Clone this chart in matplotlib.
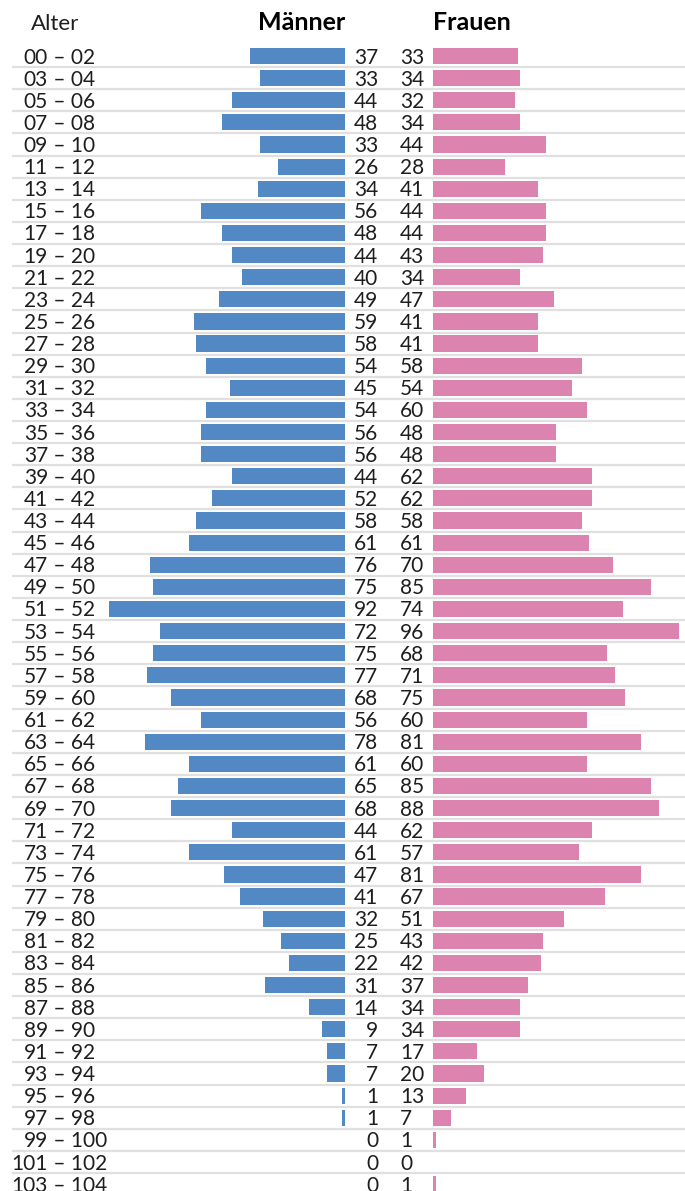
import matplotlib.pyplot as plt
import numpy as np

# Altersgruppen und Anzahl pro Geschlecht
alter = ["00 – 02", "03 – 04", "05 – 06", "07 – 08", "09 – 10", "11 – 12", "13 – 14",
         "15 – 16", "17 – 18", "19 – 20", "21 – 22", "23 – 24", "25 – 26", "27 – 28",
         "29 – 30", "31 – 32", "33 – 34", "35 – 36", "37 – 38", "39 – 40", "41 – 42",
         "43 – 44", "45 – 46", "47 – 48", "49 – 50", "51 – 52", "53 – 54", "55 – 56",
         "57 – 58", "59 – 60", "61 – 62", "63 – 64", "65 – 66", "67 – 68", "69 – 70",
         "71 – 72", "73 – 74", "75 – 76", "77 – 78", "79 – 80", "81 – 82", "83 – 84",
         "85 – 86", "87 – 88", "89 – 90", "91 – 92", "93 – 94", "95 – 96", "97 – 98",
         "99 – 100", "101 – 102", "103 – 104"]
maenner = [37, 33, 44, 48, 33, 26, 34, 56, 48, 44, 40, 49, 59, 58, 54, 45, 54, 56, 56, 44,
           52, 58, 61, 76, 75, 92, 72, 75, 77, 68, 56, 78, 61, 65, 68, 44, 61, 47, 41, 32,
           25, 22, 31, 14, 9, 7, 7, 1, 1, 0, 0, 0]
frauen = [33, 34, 32, 34, 44, 28, 41, 44, 44, 43, 34, 47, 41, 41, 58, 54, 60, 48, 48, 62,
          62, 58, 61, 70, 85, 74, 96, 68, 71, 75, 60, 81, 60, 85, 88, 62, 57, 81, 67, 51,
          43, 42, 37, 34, 34, 17, 20, 13, 7, 1, 0, 1]

plt.rcParams['font.family'] = ['Lato', 'DejaVu Sans']

W, H = 685, 1191
px = 2.565          # Pixel pro Person
pitch = 22.12       # Zeilenabstand in Pixel
y0 = 56             # Mitte der ersten Zeile

fig = plt.figure(figsize=(W / 100, H / 100), dpi=100)
ax = fig.add_axes([0, 0, 1, 1])
ax.set_xlim(-345 / px, (W - 345) / px)
ax.set_ylim((H - y0) / pitch, -y0 / pitch)
ax.axis('off')

blau = '#5288c3'
rosa = '#dd83af'
txt = '#1e1e1e'
frau_start = (433 - 345) / px
n = len(alter)
y = np.arange(n)

# Trennlinien
ax.hlines(y + 0.5, -333 / px, (W - 345) / px, color='#e0e0e0', lw=1.6, zorder=0)

ax.barh(y, [-m for m in maenner], left=0, height=0.73, color=blau)
ax.barh(y, frauen, left=frau_start, height=0.73, color=rosa)

fs = 15
base = 7.5 / pitch   # Grundlinie etwas unter Zeilenmitte
for i in range(n):
    a, b = alter[i].split(" – ")
    ax.text(-297 / px, i + base, a, ha='right', va='baseline', fontsize=fs, color=txt)
    ax.text(-297 / px, i + base, " – " + b, ha='left', va='baseline', fontsize=fs, color=txt)
    ax.text(33 / px, i + base, str(maenner[i]), ha='right', va='baseline', fontsize=fs, color=txt)
    ax.text(55 / px, i + base, str(frauen[i]), ha='left', va='baseline', fontsize=fs, color=txt)

hy = (30 - y0) / pitch
ax.text(-314 / px, hy, "Alter", ha='left', va='baseline', fontsize=16, color=txt)
ax.text(0, hy, "Männer", ha='right', va='baseline', fontsize=18, fontweight='bold', color='black')
ax.text(frau_start, hy, "Frauen", ha='left', va='baseline', fontsize=18, fontweight='bold', color='black')

fig.savefig("out.png", dpi=100)
